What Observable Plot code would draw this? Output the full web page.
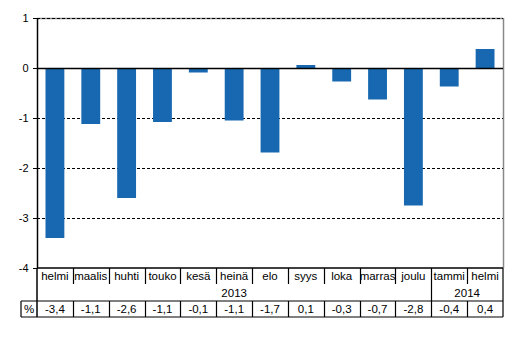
<!DOCTYPE html>
<html>
<head>
<meta charset="utf-8">
<script src="https://cdn.jsdelivr.net/npm/d3@7"></script>
<script src="https://cdn.jsdelivr.net/npm/@observablehq/plot@0.6"></script>
<style>
  html, body { margin: 0; padding: 0; background: #fff; }
  svg { display: block; }
</style>
</head>
<body>
<div id="chart"></div>
<script>
// ---- data ----
const months = ["helmi", "maalis", "huhti", "touko", "kesä", "heinä", "elo", "syys", "loka", "marras", "joulu", "tammi", "helmi"];
const values = [-3.4, -1.12, -2.6, -1.08, -0.09, -1.05, -1.69, 0.06, -0.27, -0.63, -2.75, -0.37, 0.38];
const valueLabels = ["-3,4", "-1,1", "-2,6", "-1,1", "-0,1", "-1,1", "-1,7", "0,1", "-0,3", "-0,7", "-2,8", "-0,4", "0,4"];
const years = ["2013", "2014"];
const yearStart = [0, 11];
const yearEnd = [11, 13];
const yTicks = [-4, -3, -2, -1, 0, 1];
const gridTicks = [-3, -2, -1, 1];
const unitLabel = "%";

const data = months.map((m, i) => ({i, month: m, value: values[i]}));

const FONT = "'Liberation Sans', Arial, sans-serif";
const BAR = "#1768b0";

const plot = Plot.plot({
  width: 526,
  height: 362,
  marginTop: 18,
  marginBottom: 94,
  marginLeft: 37,
  marginRight: 23,
  style: {fontFamily: FONT, fontSize: "11px", color: "#000", background: "#fff"},
  x: {domain: [0, months.length], axis: null},
  y: {domain: [-4, 1], ticks: yTicks, tickFormat: d => String(d), tickSize: 4, tickPadding: 5, label: null},
  marks: [
    Plot.ruleY([1], {stroke: "#888", strokeWidth: 1.5}),
    Plot.ruleX([months.length], {stroke: "#888", strokeWidth: 1.5}),
    Plot.ruleY(gridTicks, {stroke: "#000", strokeDasharray: "3,2", strokeWidth: 1}),
    Plot.rectY(data, {x1: d => d.i, x2: d => d.i + 1, y: "value", fill: BAR, insetLeft: 8.5, insetRight: 8.5}),
    Plot.ruleY([0], {stroke: "#000", strokeWidth: 1.5}),
    Plot.ruleX([0], {stroke: "#000", strokeWidth: 1.5})
  ]
});

document.getElementById("chart").appendChild(plot);

// ---- table under the chart, drawn with the plot's own scales ----
const xs = plot.scale("x");
const ys = plot.scale("y");
const X = v => xs.apply(v);
const yTop = ys.apply(-4);          // top of table
const rowMonthH = 16, rowYearH = 17, rowValH = 16;
const yMonthEnd = yTop + rowMonthH;
const yYearEnd = yTop + rowMonthH + rowYearH;
const yBottom = yYearEnd + rowValH;
const xLeft = X(0), xRight = X(months.length);
const unitW = 16;

const svg = d3.select(plot);
const g = svg.append("g").attr("stroke", "#000").attr("stroke-width", 1.2).attr("fill", "none");
const line = (x1, y1, x2, y2) => g.append("line").attr("x1", x1).attr("y1", y1).attr("x2", x2).attr("y2", y2);

// horizontals
line(xLeft, yTop, xRight, yTop).attr("stroke-width", 1.5);
line(xLeft - unitW, yYearEnd, xRight, yYearEnd);
line(xLeft - unitW, yBottom, xRight, yBottom);
// verticals
line(xLeft, yTop, xLeft, yBottom).attr("stroke-width", 1.5);
line(xRight, yTop, xRight, yBottom);
line(xLeft - unitW, yYearEnd, xLeft - unitW, yBottom);
for (let i = 1; i < months.length; i++) {
  const xv = Math.round(X(i)) + 0.5;
  if (yearStart.includes(i)) {
    line(xv, yTop, xv, yBottom);
  } else {
    line(xv, yTop, xv, yMonthEnd);
    line(xv, yYearEnd, xv, yBottom);
  }
}

const t = svg.append("g").attr("font-family", FONT).attr("font-size", 11.5).attr("fill", "#000").attr("text-anchor", "middle");
months.forEach((m, i) => {
  t.append("text").attr("x", X(i + 0.5)).attr("y", yTop + 12).text(m);
  t.append("text").attr("x", X(i + 0.5)).attr("y", yYearEnd + 12).text(valueLabels[i]);
});
years.forEach((yr, k) => {
  t.append("text").attr("x", (X(yearStart[k]) + X(yearEnd[k])) / 2).attr("y", yMonthEnd + 12.5).text(yr);
});
t.append("text").attr("x", xLeft - unitW / 2).attr("y", yYearEnd + 12).text(unitLabel);
</script>
</body>
</html>
